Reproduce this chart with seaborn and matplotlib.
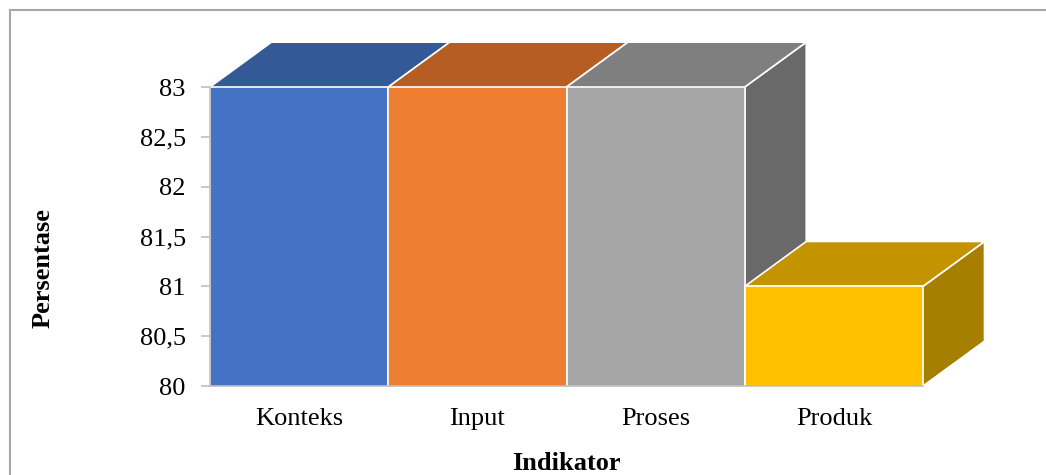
import matplotlib
matplotlib.use("Agg")
import matplotlib.pyplot as plt
from matplotlib.patches import Polygon
from matplotlib.lines import Line2D
from matplotlib.ticker import FixedLocator, FixedFormatter
import seaborn as sns
import pandas as pd

# Data
categories = ["Konteks", "Input", "Proses", "Produk"]
values = [83, 83, 83, 81]
y_ticks = [80, 80.5, 81, 81.5, 82, 82.5, 83]
y_tick_labels = ["80", "80,5", "81", "81,5", "82", "82,5", "83"]

# Face colours: front, top, side
front_colors = ["#4472C4", "#ED7D31", "#A5A5A5", "#FFC000"]
top_colors = ["#335A96", "#B55D22", "#7F7F7F", "#C49300"]
side_colors = ["#2F528F", "#A0521E", "#696969", "#A67E00"]

sns.set_theme(style="white")
plt.rcParams["font.family"] = ["Liberation Serif", "DejaVu Serif"]

W, H = 1046, 475
fig = plt.figure(figsize=(W / 100, H / 100), dpi=100)
left_px, right_px, top_px, bottom_px = 210, 923, 87, 386
ax = fig.add_axes([left_px / W, 1 - bottom_px / H,
                   (right_px - left_px) / W, (bottom_px - top_px) / H])

df = pd.DataFrame({"Indikator": categories, "Persentase": values})
sns.barplot(data=df, x="Indikator", y="Persentase", hue="Indikator",
            palette=front_colors, width=1.0, legend=False, ax=ax,
            edgecolor="white", linewidth=1.2, saturation=1, zorder=3)

ax.set_xlim(-0.5, 3.5)
ax.set_ylim(80, 83)

# Depth of the 3D blocks in data units
dx, dy = 0.345, 0.45
base = 80
for i, v in enumerate(values):
    x0, x1 = i - 0.5, i + 0.5
    side = Polygon([(x1, base), (x1 + dx, base + dy), (x1 + dx, v + dy), (x1, v)],
                   closed=True, facecolor=side_colors[i], edgecolor="white",
                   linewidth=1.2, clip_on=False, zorder=2)
    top = Polygon([(x0, v), (x1, v), (x1 + dx, v + dy), (x0 + dx, v + dy)],
                  closed=True, facecolor=top_colors[i], edgecolor="white",
                  linewidth=1.2, clip_on=False, zorder=2)
    ax.add_patch(side)
    ax.add_patch(top)

# Axes styling
for s in ["top", "right"]:
    ax.spines[s].set_visible(False)
for s in ["left", "bottom"]:
    ax.spines[s].set_color("#BFBFBF")
    ax.spines[s].set_linewidth(1.2)
    ax.spines[s].set_zorder(4)

ax.yaxis.set_major_locator(FixedLocator(y_ticks))
ax.yaxis.set_major_formatter(FixedFormatter(y_tick_labels))
ax.tick_params(axis="y", left=True, length=6.5, width=1.2, color="#BFBFBF",
               labelsize=19, pad=11, labelcolor="black")
ax.tick_params(axis="x", bottom=False, labelsize=19, pad=10, labelcolor="black")

ax.set_xlabel("Indikator", fontsize=19, fontweight="bold", color="black", labelpad=16)
ax.set_ylabel("")
fig.text(43 / W, 1 - 268 / H, "Persentase", rotation=90, fontsize=19,
         fontweight="bold", ha="center", va="center", color="black")

# Chart frame (top and left edges)
fig.add_artist(Line2D([10 / W, 10 / W], [0, 1 - 10 / H], transform=fig.transFigure,
                      color="#A6A6A6", linewidth=1.5))
fig.add_artist(Line2D([10 / W, 1], [1 - 10 / H, 1 - 10 / H], transform=fig.transFigure,
                      color="#A6A6A6", linewidth=1.5))

fig.savefig("out.png", dpi=100, facecolor="white")
